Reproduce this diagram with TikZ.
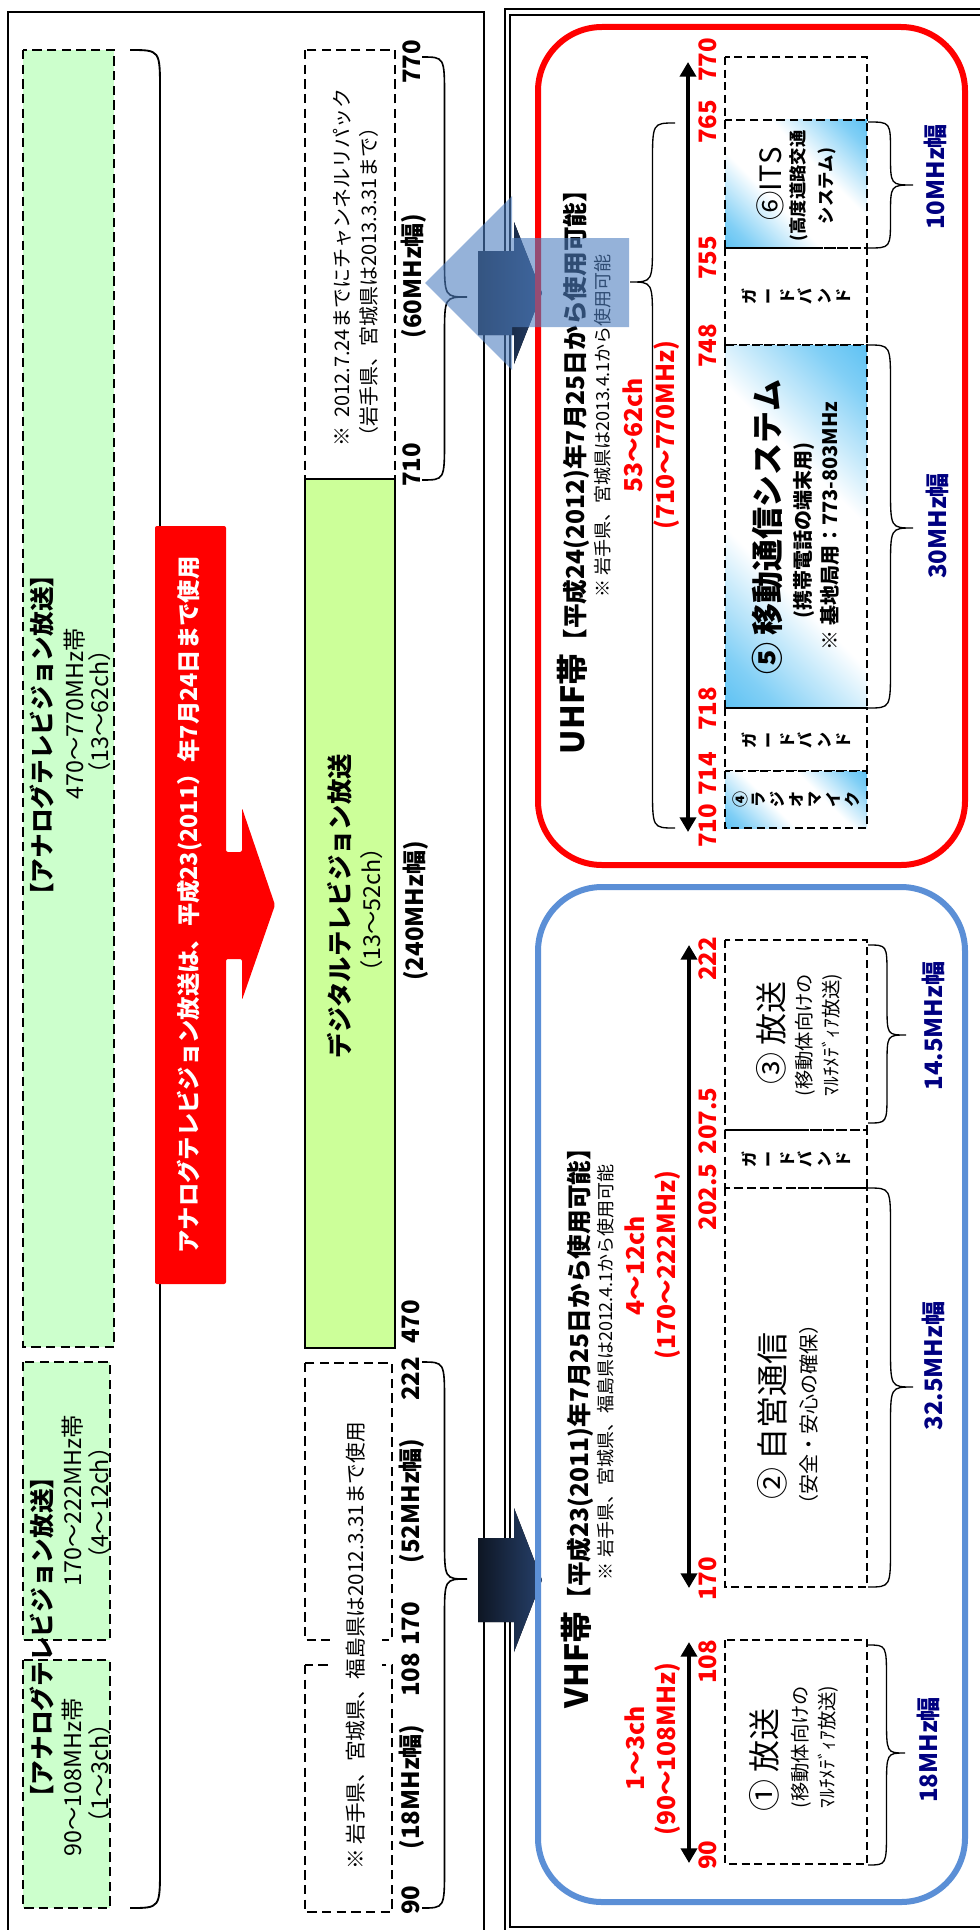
\documentclass[tikz,border=0pt]{standalone}
\usepackage{fontspec}
\setmainfont{Noto Sans CJK JP}[Kerning=Off]
\usetikzlibrary{arrows.meta}
\definecolor{agreen}{HTML}{CCFFCC}
\definecolor{dgreen}{HTML}{CCFF99}
\definecolor{vblue}{HTML}{5B8FD6}
\definecolor{navyt}{HTML}{000080}
\definecolor{cyanb}{HTML}{1AA8EE}
\definecolor{darkA}{HTML}{0E1624}
\definecolor{darkB}{HTML}{26406A}
\definecolor{tblue}{HTML}{4F7FC0}
\definecolor{redr}{HTML}{FF0000}
\pgfdeclarehorizontalshading{cwc}{100bp}{color(0bp)=(cyanb); color(22bp)=(cyanb!55!white); color(40bp)=(white); color(60bp)=(white); color(78bp)=(cyanb!55!white); color(100bp)=(cyanb)}
\newcommand\fsz[2]{\fontsize{#1}{#2}\selectfont}
% brace: [style]{x0}{ytop}{ybot}{ytip}{width}{radius}
\newcommand\brc[7][]{%
  \draw[brcl,#1] (#2,#3) .. controls ({#2+0.5*(#6)},#3) .. ({#2+0.5*(#6)},{#3+#7})
    -- ({#2+0.5*(#6)},{#5-#7}) .. controls ({#2+0.5*(#6)},#5) .. ({#2+#6},#5)
    .. controls ({#2+0.5*(#6)},#5) .. ({#2+0.5*(#6)},{#5+#7})
    -- ({#2+0.5*(#6)},{#4-#7}) .. controls ({#2+0.5*(#6)},#4) .. (#2,#4);}
\begin{document}
\begin{tikzpicture}[x=0.75pt,y=-0.75pt,
  txt/.style={inner sep=0pt, rotate=90, align=center},
  dbox/.style={draw=black, line width=1.5pt, dash pattern=on 7pt off 4pt},
  rbox/.style={draw=black, line width=1.2pt, dash pattern=on 6pt off 3.5pt},
  rboxT/.style={draw=black, line width=2.2pt, dash pattern=on 6.5pt off 3.5pt},
  brcl/.style={draw=black, line width=1.2pt},
  dbl/.style={line width=3pt, {Triangle[width=12pt,length=11pt]}-{Triangle[width=12pt,length=11pt]}},
  lab/.style={txt, font=\bfseries\fsz{18}{20}},
  rlab/.style={txt, font=\bfseries\fsz{18}{20}, text=redr},
  rch/.style={txt, font=\bfseries\fsz{18.5}{20}, text=redr},
  mhz/.style={txt, font=\bfseries\fsz{18}{20}, text=navyt},
  stack/.style={txt, font=\bfseries\fsz{12}{14}},
  gshade/.style={shade, shading=cwc, shading angle=45}
]
\useasboundingbox (0,0) rectangle (979,1930);
\fill[white] (0,0) rectangle (979,1930);

% ---------- panel frames ----------
\draw[line width=1.1pt] (8,1950) -- (8,12) -- (484,12) -- (484,1950);
\draw[line width=1.5pt] (505,1950) -- (505,9) -- (1000,9);
\draw[line width=1.8pt] (510,1927) rectangle (1000,15);

% ---------- left panel: analogue ----------
\path[fill=agreen, dbox] (23,50) rectangle (114,1347);
\path[fill=agreen, dbox] (23,1362) rectangle (110,1640);
\path[fill=agreen, dbox] (23,1660) rectangle (110,1908);
\node[txt, font=\bfseries\fsz{18.5}{22}] (atitle) at (42,735) {【アナログテレビジョン放送】};
\node[txt, font=\fsz{17.5}{20}] (auhf1) at (75,714) {470〜770MHz帯};
\node[txt, font=\fsz{17.5}{20}] (auhf2) at (100,712) {（13〜62ch）};
\node[txt, font=\bfseries\fsz{18.5}{22}] (atitle2) at (42,1637) {【アナログテレビジョン放送】};
\node[txt, font=\fsz{17.5}{20}] (avh1) at (73,1501) {170〜222MHz帯};
\node[txt, font=\fsz{17.5}{20}] (avh2) at (100,1503) {（4〜12ch）};
\node[txt, font=\fsz{17.5}{20}] (avl1) at (73,1777) {90〜108MHz帯};
\node[txt, font=\fsz{17.5}{20}] (avl2) at (100,1773) {（1〜3ch）};

% big bracket (tip hidden by red arrow)
\brc[line width=1.4pt]{130}{50}{1908}{980}{60}{40}

% red arrow
\fill[redr, rounded corners=1.5pt] (155,526) -- (226,526) -- (226,852) -- (242,852) -- (242,808)
  -- (275,905) -- (242,1000) -- (242,959) -- (226,959) -- (226,1284) -- (155,1284) -- cycle;
\node[txt, font=\bfseries\fsz{17.5}{22}, text=white] (redtxt) at (190,905)
  {アナログテレビジョン放送は、平成23(2011）年7月24日まで使用};

% digital
\path[dbox] (305,50) rectangle (395,479);
\path[fill=dgreen, draw=black, line width=1.5pt] (305,479) rectangle (395,1348);
\node[txt, font=\bfseries\fsz{19}{22}] (dtitle) at (340,906) {デジタルテレビジョン放送};
\node[txt, font=\fsz{17.5}{20}] (dch) at (372,910) {（13〜52ch）};
\node[txt, font=\fsz{15}{20}, align=left, anchor=west] (note1) at (356,447)
  {※\ \ 2012.7.24までにチャンネルリパック\\（岩手県、宮城県は2013.3.31まで）};

% lower dashed boxes
\path[dbox] (305,1363) rectangle (392,1640);
\path[dbox] (305,1665) rectangle (392,1912);
\node[txt, font=\fsz{15.5}{18}, fill=white, minimum height=39pt] (note2) at (356,1646)
  {※ 岩手県、宮城県、福島県は2012.3.31まで使用};

% labels left
\node[lab] (l770) at (412,62) {770};
\node[lab] (l710) at (412,465) {710};
\node[lab] (l60) at (414,276) {(60MHz幅)};
\node[lab] (l240) at (416,911) {(240MHz幅)};
\node[lab] (l470) at (411,1322) {470};
\node[lab] (l222) at (411,1379) {222};
\node[lab] (l52) at (412,1501) {(52MHz幅)};
\node[lab] (l170) at (411,1624) {170};
\node[lab] (l108) at (411,1675) {108};
\node[lab] (l18) at (412,1787) {(18MHz幅)};
\node[lab] (l90) at (411,1900) {90};

\brc{422}{57}{480}{297}{45}{40}
\brc{422}{1362}{1908}{1579}{45}{40}

% ---------- dark arrows between panels ----------
\fill[left color=darkA, right color=darkB] (478,1538) -- (514,1538) -- (514,1508) -- (542,1580)
  -- (514,1652) -- (514,1622) -- (478,1622) -- cycle;
\fill[left color=darkA, right color=darkB] (478,251) -- (514,251) -- (514,222) -- (542,293)
  -- (514,364) -- (514,335) -- (478,335) -- cycle;

% ---------- UHF panel ----------
\draw[redr, line width=4.5pt, rounded corners=48pt] (538,27) rectangle (965,865);
\node[txt] (uhftitle) at (573,466)
  {{\bfseries\fsz{24}{28}UHF帯}{\bfseries\fsz{18.5}{22}【平成24(2012)年7月25日から使用可能】}};
\node[txt, font=\fsz{13.5}{16}] (uhfnote) at (603,426) {※ 岩手県、宮城県は2013.4.1から使用可能};
\node[rch] (uch) at (633,435) {53〜62ch};
\node[rch] (umhz) at (667,435) {(710〜770MHz)};
\brc[line width=1pt]{675}{123}{828}{282}{-45}{40}
\coordinate (ua1) at (688,62);
\coordinate (ua2) at (688,832);
\draw[dbl] (ua1) -- (ua2);
\node[rlab] (u770) at (708,60) {770};
\node[rlab] (u765) at (708,122) {765};
\node[rlab] (u755) at (708,258) {755};
\node[rlab] (u748) at (708,346) {748};
\node[rlab] (u718) at (708,709) {718};
\node[rlab] (u714) at (708,774) {714};
\node[rlab] (u710) at (708,826) {710};

\path[rbox] (725,57) rectangle (867,120);
\path[gshade] (725,120) rectangle (867,248);
\path[rboxT] (725,120) rectangle (867,248);
\path[rbox] (725,248) rectangle (867,345);
\path[gshade] (725,345) rectangle (867,708);
\path[rbox] (725,345) rectangle (867,708);
\path[rbox] (725,708) rectangle (867,771);
\path[gshade] (725,771) rectangle (867,828);
\path[rbox] (725,771) rectangle (867,828);

\node[txt, font=\fsz{22}{24}] (its1) at (770,184) {⑥ITS};
\node[txt, font=\bfseries\fsz{13}{21}] (its2) at (813,186) {(高度道路交通\\システム)};
\node[stack] (gb1) at (796,296) {ガ\\ー\\ド\\バ\\ン\\ド};
\node[txt, font=\bfseries\fsz{24}{28}] (mob1) at (767,527) {⑤ 移動通信システム};
\node[txt, font=\bfseries\fsz{15}{18}] (mob2) at (804,530) {(携帯電話の端末用)};
\node[txt, font=\bfseries\fsz{15}{18}] (mob3) at (830,526) {※ 基地局用：773-803MHz};
\node[stack] (gb2) at (796,740) {ガ\\ー\\ド\\バ\\ン\\ド};
\node[stack] (rm) at (796,799) {④\\ラ\\ジ\\オ\\マ\\イ\\ク};

\brc[line width=1pt]{868}{122}{248}{185}{45}{30}
\brc[line width=1pt]{868}{345}{708}{528}{45}{40}
\node[mhz] (m10) at (935,177) {10MHz幅};
\node[mhz] (m30) at (937,526) {30MHz幅};

% ---------- VHF panel ----------
\draw[vblue, line width=4.5pt, rounded corners=48pt] (538,887) rectangle (965,1902);
\node[txt] (vhftitle) at (577,1422)
  {{\bfseries\fsz{24}{28}VHF帯}{\bfseries\fsz{18.5}{22}【平成23(2011)年7月25日から使用可能】}};
\node[txt, font=\fsz{13.5}{16}] (vhfnote) at (606,1372) {※ 岩手県、宮城県、福島県は2012.4.1から使用可能};
\node[rch] (vch) at (635,1266) {4〜12ch};
\node[rch] (vmhz) at (668,1265) {(170〜222MHz)};
\coordinate (va1) at (689,945);
\coordinate (va2) at (689,1588);
\draw[dbl] (va1) -- (va2);
\node[rlab] (v222) at (708,959) {222};
\node[rlab] (v2075) at (708,1121) {207.5};
\node[rlab] (v2025) at (708,1197) {202.5};
\node[rlab] (v170) at (708,1579) {170};

\path[rbox] (725,940) rectangle (867,1130);
\path[rboxT] (725,1130) rectangle (867,1188);
\path[rbox] (725,1188) rectangle (867,1587);
\node[txt, font=\fsz{24}{28}] (b3a) at (771,1033) {③ 放送};
\node[txt, font=\fsz{14.5}{20}] (b3b) at (819,1035) {(移動体向けの\\ﾏﾙﾁﾒﾃﾞｨｱ放送)};
\node[stack] (gb3) at (796,1159) {ガ\\ー\\ド\\バ\\ン\\ド};
\node[txt, font=\fsz{24}{28}] (b2a) at (772,1416) {② 自営通信};
\node[txt, font=\fsz{15}{18}] (b2b) at (809,1414) {（安全・安心の確保）};
\brc[line width=1pt]{868}{945}{1123}{1035}{38}{30}
\brc[line width=1pt]{868}{1188}{1587}{1387}{45}{40}
\node[mhz] (m145) at (933,1026) {14.5MHz幅};
\node[mhz] (m325) at (933,1366) {32.5MHz幅};

\node[rch] (v13ch) at (635,1748) {1〜3ch};
\node[rch] (v90mhz) at (668,1749) {(90〜108MHz)};
\coordinate (vb1) at (689,1642);
\coordinate (vb2) at (689,1863);
\draw[dbl] (vb1) -- (vb2);
\node[rlab] (v108) at (708,1662) {108};
\node[rlab] (v90) at (708,1855) {90};
\path[rbox] (725,1640) rectangle (867,1864);
\node[txt, font=\fsz{24}{28}] (b1a) at (764,1760) {① 放送};
\node[txt, font=\fsz{14.5}{20}] (b1b) at (815,1747) {(移動体向けの\\ﾏﾙﾁﾒﾃﾞｨｱ放送)};
\brc[line width=1pt]{868}{1645}{1865}{1753}{37}{35}
\node[mhz] (m18) at (928,1750) {18MHz幅};

% ---------- translucent blue arrow ----------
\fill[tblue, opacity=0.6] (425,283) -- (512,196) -- (512,238) -- (629,238) -- (629,327)
  -- (512,327) -- (512,370) -- cycle;
\end{tikzpicture}
\end{document}
